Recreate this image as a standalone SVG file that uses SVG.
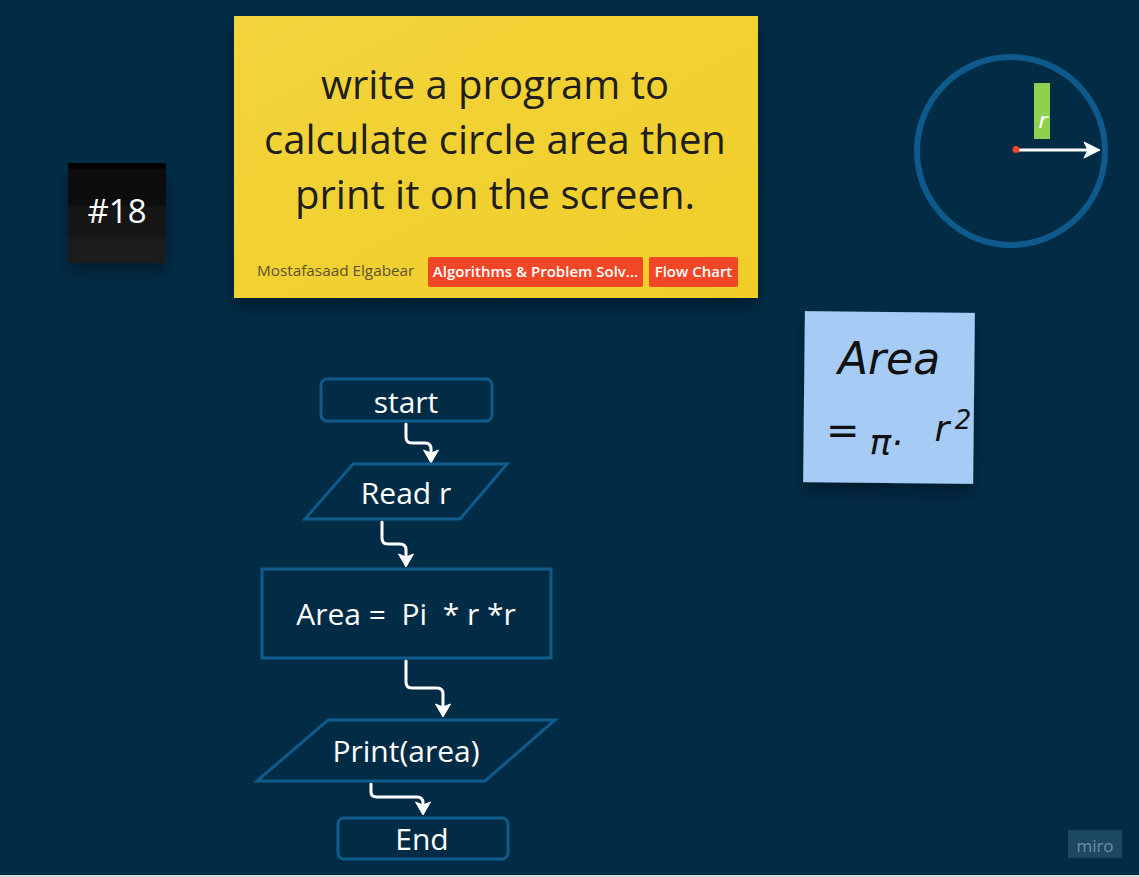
<svg xmlns="http://www.w3.org/2000/svg" width="1139" height="877" viewBox="0 0 1139 877">
<defs>
<style>
.t{font-family:"Open Sans","Liberation Sans",sans-serif;fill:#fff;text-anchor:middle;dominant-baseline:central}
.shape{fill:none;stroke:#0f5b8c;stroke-width:3}
.conn{fill:none;stroke:#fff;stroke-width:3;stroke-linecap:round}
.head{fill:#fff;stroke:#fff;stroke-width:1;stroke-linejoin:round}
.tag{fill:#f24726}
.tagt{font-family:"Open Sans","Liberation Sans",sans-serif;fill:#fff;font-size:15px;font-weight:600;text-anchor:middle;dominant-baseline:central}
.hand{font-family:"DejaVu Sans","Liberation Sans",sans-serif;fill:#111;font-style:italic}
</style>
<filter id="sh" x="-20%" y="-20%" width="140%" height="150%">
<feDropShadow dx="0" dy="10" stdDeviation="8" flood-color="#000" flood-opacity="0.35"/>
</filter>
<linearGradient id="yg" x1="0" y1="0" x2="1" y2="1">
<stop offset="0" stop-color="#f2d43c"/>
<stop offset="1" stop-color="#f1cd28"/>
</linearGradient>
<linearGradient id="bg18" x1="0" y1="0" x2="0" y2="1">
<stop offset="0" stop-color="#050505"/>
<stop offset="0.55" stop-color="#151515"/>
<stop offset="1" stop-color="#1f1f1f"/>
</linearGradient>
</defs>
<rect width="1139" height="877" fill="#022c46"/>
<rect x="0" y="875" width="1139" height="2" fill="#d5dde2"/>

<g id="task-card">
<rect x="234" y="16" width="524" height="282" fill="url(#yg)" filter="url(#sh)"/>
<text class="t" x="495" y="83" font-size="40" style="fill:#1e1e1e">write a program to</text>
<text class="t" x="495" y="138" font-size="40" style="fill:#1e1e1e">calculate circle area then</text>
<text class="t" x="495" y="193" font-size="40" style="fill:#1e1e1e">print it on the screen.</text>
<text x="257" y="270" font-family="'Open Sans','Liberation Sans',sans-serif" font-size="15.3" fill="#5b5230" dominant-baseline="central">Mostafasaad Elgabear</text>
<rect class="tag" x="428" y="257" width="215" height="30" rx="2"/>
<text class="tagt" x="535.5" y="271">Algorithms &amp; Problem Solv...</text>
<rect class="tag" x="649" y="257" width="89" height="30" rx="2"/>
<text class="tagt" x="693.5" y="271">Flow Chart</text>
</g>

<g id="number-card">
<rect x="68" y="163" width="98" height="100" fill="url(#bg18)" filter="url(#sh)"/>
<text class="t" x="117" y="210" font-size="33">#18</text>
</g>

<g id="circle-sketch">
<circle cx="1011" cy="151" r="94" fill="none" stroke="#0e5a8c" stroke-width="6"/>
<rect x="1034" y="83" width="16" height="56" fill="#8fd14f"/>
<text x="1043" y="120" font-family="'DejaVu Sans',sans-serif" font-style="italic" font-size="22" fill="#fff" text-anchor="middle" dominant-baseline="central">r</text>
<line x1="1019" y1="150" x2="1088" y2="150" class="conn"/>
<polygon class="head" points="1100,150 1084,142 1088,150 1084,158"/>
<circle cx="1016" cy="149.5" r="3.5" fill="#f24726"/>
</g>

<g id="formula-note">
<g transform="rotate(0.6 889 398)">
<rect x="804" y="312" width="170" height="171" fill="#a6ccf5" filter="url(#sh)"/>
</g>
<text class="hand" x="889" y="358" font-size="44" text-anchor="middle" dominant-baseline="central">Area</text>
<text class="hand" x="826" y="430" font-size="40" dominant-baseline="central">=</text>
<text class="hand" x="886" y="442" font-size="36" text-anchor="middle" dominant-baseline="central">π·</text>
<text class="hand" x="942" y="428" font-size="36" text-anchor="middle" dominant-baseline="central">r</text>
<text class="hand" x="963" y="420" font-size="26" text-anchor="middle" dominant-baseline="central">2</text>
</g>

<g id="connectors">
<path class="conn" d="M406,424 V437 Q406,443 412,443 H425 Q431,443 431,449 V452"/>
<polygon class="head" points="431,463 423.5,450 431,453 438.5,450"/>
<path class="conn" d="M382,522 V538 Q382,544 388,544 H400 Q406,544 406,550 V556"/>
<polygon class="head" points="406,567 398.5,554 406,557 413.5,554"/>
<path class="conn" d="M406,661 V682 Q406,688 412,688 H437 Q443,688 443,694 V706"/>
<polygon class="head" points="443,717 435.5,704 443,707 450.5,704"/>
<path class="conn" d="M371,784 V792 Q371,797 377,797 H417 Q423,797 423,803 V804"/>
<polygon class="head" points="423,815 415.5,802 423,805 430.5,802"/>
</g>

<g id="start">
<rect class="shape" x="321" y="379" width="171" height="42" rx="6"/>
<text class="t" x="406" y="401" font-size="30">start</text>
</g>
<g id="read">
<polygon class="shape" points="353,464 507,464 460,519 305,519"/>
<text class="t" x="406" y="492" font-size="30">Read r</text>
</g>
<g id="process">
<rect class="shape" x="262" y="569" width="289" height="89"/>
<text class="t" x="406" y="613" font-size="30" xml:space="preserve">Area =  Pi  * r *r</text>
</g>
<g id="print">
<polygon class="shape" points="328,720 555,720 485,781 257,781"/>
<text class="t" x="406" y="750" font-size="30">Print(area)</text>
</g>
<g id="end">
<rect class="shape" x="338" y="818" width="170" height="41" rx="6"/>
<text class="t" x="422" y="838" font-size="30">End</text>
</g>

<g id="miro-logo">
<rect x="1068" y="830" width="54" height="28" fill="#1c4862"/>
<text x="1095" y="845" font-family="'Open Sans','Liberation Sans',sans-serif" font-size="17" fill="#6f8fa2" text-anchor="middle" dominant-baseline="central">miro</text>
</g>
</svg>
